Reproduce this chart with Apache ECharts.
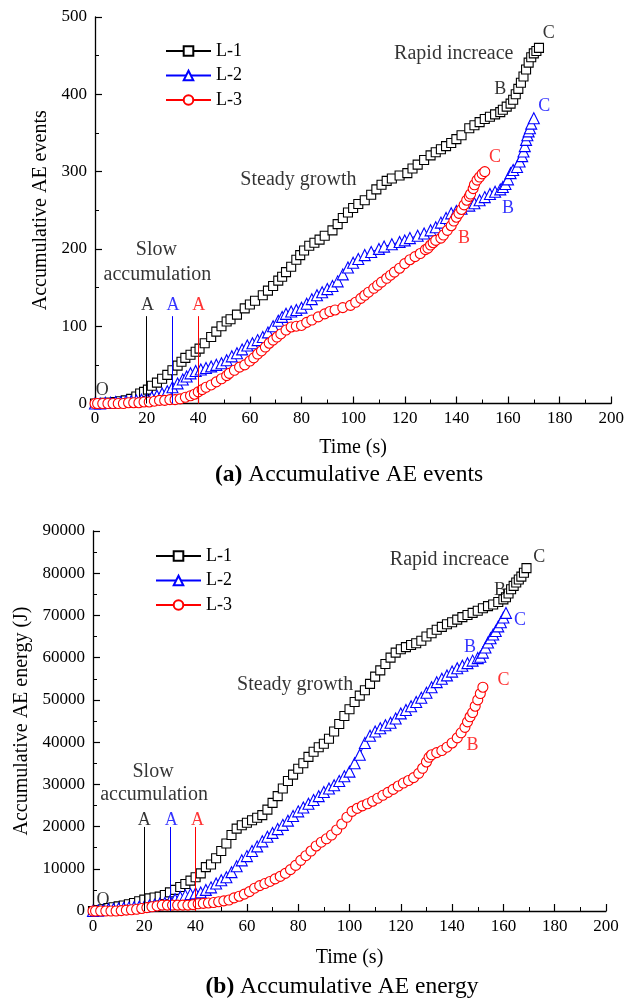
<!DOCTYPE html>
<html><head><meta charset="utf-8">
<script src="https://cdn.jsdelivr.net/npm/echarts@6/dist/echarts.min.js"></script>
<style>html,body{margin:0;padding:0;background:#fff}#c{width:627px;height:1004px}</style>
</head><body><div id="c"></div><script>
const seriesNames = ['L-1', 'L-2', 'L-3'];

// (a) Accumulative AE events: [time (s), count]
const eventsL1 = [[0,0],[2,0],[4,1],[6,1],[8,2],[10,3],[12,4],[14,6],[16,9],[17.5,13],[19,15],[20.5,18],[22,23],[24,27],[26,32],[28,37],[30,43],[32,49],[33.5,54],[35,59],[37,63],[39,67],[40.5,71],[42.5,78],[45,86],[47,93],[49,100],[51,106],[52.5,109],[55,115],[58,123],[60,128],[62,133],[65,140],[67,146],[69,152],[71,159],[72.5,164],[74,170],[76,177],[78,186],[79.5,192],[81,198],[83,204],[85,208],[87,212],[89,217],[92,224],[94,232],[96,240],[98,247],[100,253],[102,258],[104.5,263],[107,270],[109,277],[111,283],[113,288],[115,291],[118,295],[121,298],[123,304],[125,309],[127.5,315],[130,321],[132,325],[134,329],[136,333],[138,337],[140,342],[142,347],[145,356],[147,360],[149,364],[151,368],[153,371],[155,374],[157,377],[158,380],[159.5,384],[161,388],[162,393],[163,400],[164,407],[165,415],[166,423],[167,432],[168,441],[169,448],[170,453],[171,456],[172,460]];
const eventsL2 = [[0,0],[2,0],[4,1],[6,1],[8,2],[10,2],[12,3],[14,3],[16,4],[18,5],[20,6],[22,8],[24,10],[26,13],[28,16],[30,21],[32,26],[34,31],[35.5,35],[37,39],[39,42],[41,44],[43,46],[45,48],[47,50],[49,52],[51,56],[53,61],[55,65],[57,70],[59,75],[61,78],[63,82],[65,86],[67,92],[69,100],[71,107],[72.5,112],[74,116],[76,119],[78,121],[80,124],[82,129],[84,135],[86,140],[88,144],[90,148],[92,152],[94,158],[96,167],[98,176],[100,182],[102,187],[104.5,192],[107,196],[110,200],[112,203],[115,206],[118,209],[120,211],[122,214],[125,217],[127.5,220],[130,224],[132,228],[134,234],[136,240],[138,246],[140,249],[142,252],[145,256],[147,259],[149,263],[151,267],[153,271],[155,274],[157,277],[158,280],[159,284],[160,290],[161,298],[162,302],[163.5,306],[164.5,313],[165.5,320],[166,326],[166.5,333],[167,341],[167.5,347],[168,352],[168.5,356],[169,362],[170,369]];
const eventsL3 = [[0,0],[1,0],[3,0],[5,0],[7,0],[9,0],[11,0],[13,1],[15,1],[17,1],[19,2],[21,2],[23,3],[25,4],[27,4],[29,5],[31,5],[33,6],[35,8],[37,10],[38.5,12],[40,15],[41.5,18],[43,21],[45,24],[47,28],[49,32],[51,36],[52,39],[54,43],[56,47],[58,50],[60,55],[61.5,59],[63,64],[64.5,68],[66,73],[67.5,78],[69,82],[70.5,86],[72,90],[74,95],[76,99],[78,100],[80,101],[82,105],[84,108],[86.5,112],[89,116],[91,119],[93,121],[96,124],[99,127],[101,131],[103,136],[104.5,140],[106,144],[108,149],[109.5,153],[111,157],[113,162],[114.5,166],[116,170],[118,175],[120,181],[122,186],[124,190],[126,194],[128,199],[129,201],[130,205],[131,208],[132,211],[134,214],[135,218],[136.5,224],[138,230],[139,236],[140,241],[141,246],[142,251],[143,257],[144,263],[145,268],[145.5,271],[146.5,278],[147,283],[148,289],[149,293],[150,297],[151,300]];

// (b) Accumulative AE energy: [time (s), energy (J)]
const energyL1 = [[0,0],[2,200],[4,400],[6,700],[8,900],[10,1100],[12,1300],[14,1600],[16,1900],[18,2300],[20,2700],[22,3000],[24,3200],[26,3400],[28,3800],[30,4400],[32,5000],[34,5700],[36,6400],[38,7200],[40,8000],[42,8900],[44,10400],[46,11000],[48,12500],[50,14200],[52,16000],[54,18000],[56,19500],[58,20300],[60,20900],[62,21500],[64,22100],[66,22700],[68,24000],[70,25600],[72,27200],[74,29000],[76,30800],[78,32300],[80,33700],[82,35000],[84,36500],[86,37700],[88,38800],[90,39600],[92,40800],[94,42500],[96,44300],[98,46200],[100,47800],[102,49500],[104,51000],[106,52300],[108,53800],[110,55500],[112,57000],[114,58500],[116,60000],[118,61200],[120,62000],[122,62500],[124,63000],[126,63400],[128,64000],[130,65000],[132,65800],[134,66600],[136,67300],[138,67900],[140,68400],[142,69000],[144,69600],[146,70100],[148,70600],[150,71100],[152,71700],[154,72200],[156,72600],[158,73200],[160,73800],[161,74300],[162,75200],[163,76200],[164,77000],[165,77800],[166,78500],[167,79200],[168,80100],[169,81200]];
const energyL2 = [[0,0],[2,100],[4,300],[6,400],[8,500],[10,600],[12,700],[14,800],[16,900],[18,1000],[20,1100],[22,1300],[24,1500],[26,1700],[28,1900],[30,2300],[32,2800],[34,3300],[36,3700],[38,4000],[40,4200],[42,4400],[44,5000],[46,5600],[48,6500],[50,7300],[52,8000],[54,9200],[56,10600],[58,12000],[60,13000],[62,14200],[64,15300],[66,16500],[68,17600],[70,18500],[72,19400],[74,20400],[76,21400],[78,22500],[80,23600],[82,24500],[84,25400],[86,26300],[88,27200],[90,28200],[92,29000],[94,29800],[96,30800],[98,31900],[100,33000],[102,35000],[104,37000],[106,39800],[108,41500],[110,42500],[112,43300],[114,44000],[116,44600],[118,45600],[120,46800],[122,47600],[124,48500],[126,49500],[128,50500],[130,51700],[132,53000],[134,54200],[136,55000],[138,55800],[140,56700],[142,57500],[144,58100],[146,58700],[148,59300],[150,59900],[151,60200],[152,61200],[153,62400],[154,63600],[155,64600],[156,65500],[157,66300],[158,67400],[159,68400],[160,69500],[161,70600]];
const energyL3 = [[0,0],[1,0],[3,0],[5,0],[7,0],[9,0],[11,100],[13,200],[15,300],[17,400],[19,600],[21,800],[23,1000],[25,1200],[27,1400],[29,1400],[31,1400],[33,1400],[35,1400],[37,1400],[39,1500],[41,1700],[43,1800],[45,1900],[47,2000],[49,2200],[51,2400],[53,2600],[55,3100],[57,3500],[59,4000],[61,4600],[63,5400],[65,6000],[67,6500],[69,7000],[71,7600],[73,8200],[75,8900],[77,9800],[79,10800],[81,12000],[83,13100],[85,14200],[87,15400],[89,16300],[91,17100],[93,18000],[95,19200],[97,20600],[99,22200],[101,23600],[103,24300],[105,24900],[107,25400],[109,26000],[111,26700],[113,27400],[115,28100],[117,28800],[119,29600],[121,30300],[123,30900],[125,31600],[127,32600],[128.5,33800],[130,35300],[131,36400],[132,37000],[134,37500],[136,38000],[138,38800],[140,39800],[142,41000],[143.5,42200],[145,43500],[146,44800],[147,46000],[148,47000],[149,48500],[150,50000],[151,51500],[152,53000]];

// stage boundary times (A points) and their heights
const stageATimes = [20, 30, 40];
const stageALineTopEvents = 113;
const stageALineTopEnergy = 19900;

const FONT = 'Liberation Serif';
const colors = ['#000000', '#0000ff', '#ff0000'];
const symbols = ['rect', 'triangle', 'circle'];
const symSizes = [9, 11, 10];

// annotation text anchored in data coordinates: [text, x, y, colorIndex, size]
const annoTop = [
  ['O', 2.8, 17, 0, 18],
  ['A', 20.3, 127, 0, 18], ['A', 30.2, 127, 1, 18], ['A', 40.2, 127, 2, 18],
  ['Slow', 23.8, 199, 0, 20], ['accumulation', 24.2, 166, 0, 20],
  ['Steady growth', 78.8, 289, 0, 20],
  ['Rapid increace', 139, 453, 0, 20],
  ['C', 175.8, 479, 0, 18], ['B', 157, 406, 0, 18],
  ['C', 174, 384, 1, 18], ['B', 160, 253, 1, 18],
  ['C', 155, 318, 2, 18], ['B', 143, 214, 2, 18]
];
const annoBot = [
  ['O', 3.9, 2600, 0, 18],
  ['A', 20, 21500, 0, 18], ['A', 30.5, 21500, 1, 18], ['A', 40.7, 21500, 2, 18],
  ['Slow', 23.4, 32900, 0, 20], ['accumulation', 23.8, 27500, 0, 20],
  ['Steady growth', 78.8, 53500, 0, 20],
  ['Rapid increace', 139, 83100, 0, 20],
  ['C', 174, 83800, 0, 18], ['B', 158.7, 76000, 0, 18],
  ['C', 166.5, 68900, 1, 18], ['B', 147, 62500, 1, 18],
  ['C', 160, 54700, 2, 18], ['B', 148, 39300, 2, 18]
];

function xAxisCfg(gridIndex, nameGap) {
  return {
    type: 'value', gridIndex, min: 0, max: 200, interval: 20,
    name: 'Time (s)', nameLocation: 'middle', nameGap,
    nameTextStyle: { fontFamily: FONT, fontSize: 20, color: '#000' },
    axisLine: { show: true, onZero: false, lineStyle: { color: '#000', width: 1.3 } },
    axisTick: { show: true, inside: true, length: 7, lineStyle: { color: '#000', width: 1.2 } },
    minorTick: { show: true, splitNumber: 2, length: 4, lineStyle: { color: '#000', width: 1 } },
    splitLine: { show: false },
    axisLabel: { fontFamily: FONT, fontSize: 17, color: '#000', margin: 7, formatter: v => String(v) }
  };
}
function yAxisCfg(gridIndex, max, interval, name, nameGap) {
  return {
    type: 'value', gridIndex, min: 0, max, interval,
    name, nameLocation: 'middle', nameGap,
    nameTextStyle: { fontFamily: FONT, fontSize: 20, color: '#000' },
    axisLine: { show: true, onZero: false, lineStyle: { color: '#000', width: 1.3 } },
    axisTick: { show: true, inside: true, length: 7, lineStyle: { color: '#000', width: 1.2 } },
    minorTick: { show: true, splitNumber: 2, length: 4, lineStyle: { color: '#000', width: 1 } },
    splitLine: { show: false },
    axisLabel: { fontFamily: FONT, fontSize: 17, color: '#000', margin: 8, formatter: v => String(v) }
  };
}
function lineSeries(i, data, gi) {
  return {
    name: seriesNames[i], type: 'line', xAxisIndex: gi, yAxisIndex: gi, data,
    symbol: symbols[i], symbolSize: symSizes[i], showSymbol: true,
    lineStyle: { color: colors[i], width: 1 },
    itemStyle: { color: '#fff', borderColor: colors[i], borderWidth: 1.1 },
    emphasis: { disabled: true }, z: 2 + i
  };
}
function annoSeries(list, gi, lineTop) {
  return {
    type: 'scatter', xAxisIndex: gi, yAxisIndex: gi, symbolSize: 0, silent: true, z: 10,
    data: list.map(a => ({
      value: [a[1], a[2]],
      label: { show: true, position: 'inside', formatter: a[0], color: colors[a[3]],
        fontFamily: FONT, fontSize: a[4] }
    })),
    markLine: {
      silent: true, symbol: ['none', 'none'], label: { show: false }, animation: false,
      data: stageATimes.map((t, k) => [
        { coord: [t, 0], lineStyle: { color: colors[k], width: 1, type: 'solid' } },
        { coord: [t, lineTop] }
      ])
    }
  };
}
function legendCfg(left, top) {
  return {
    data: seriesNames, orient: 'vertical', left, top, padding: 0,
    itemWidth: 45, itemHeight: 12, itemGap: 6.5,
    textStyle: { fontFamily: FONT, fontSize: 18, color: '#000', padding: [0, 0, 0, 0] },
    selectedMode: false
  };
}

const chart = echarts.init(document.getElementById('c'), null, { renderer: 'canvas' });
chart.setOption({
  animation: false,
  backgroundColor: '#fff',
  title: [
    { text: '{b|(a)} Accumulative AE events', left: 349, top: 463, textAlign: 'center', padding: 0,
      textStyle: { fontFamily: FONT, fontSize: 23.5, fontWeight: 'normal', color: '#000',
        rich: { b: { fontFamily: FONT, fontSize: 23.5, fontWeight: 'bold', color: '#000' } } } },
    { text: '{b|(b)} Accumulative AE energy', left: 342, top: 975, textAlign: 'center', padding: 0,
      textStyle: { fontFamily: FONT, fontSize: 23.5, fontWeight: 'normal', color: '#000',
        rich: { b: { fontFamily: FONT, fontSize: 23.5, fontWeight: 'bold', color: '#000' } } } }
  ],
  legend: [legendCfg(165, 42), legendCfg(155, 547)],
  grid: [
    { left: 95, top: 17, width: 520, height: 386.5 },
    { left: 93, top: 531, width: 513, height: 380 }
  ],
  xAxis: [xAxisCfg(0, 34), xAxisCfg(1, 37)],
  yAxis: [
    yAxisCfg(0, 500, 100, 'Accumulative AE events', 43),
    yAxisCfg(1, 90000, 10000, 'Accumulative AE energy (J)', 58)
  ],
  series: [
    lineSeries(0, eventsL1, 0), lineSeries(1, eventsL2, 0), lineSeries(2, eventsL3, 0),
    lineSeries(0, energyL1, 1), lineSeries(1, energyL2, 1), lineSeries(2, energyL3, 1),
    annoSeries(annoTop, 0, stageALineTopEvents),
    annoSeries(annoBot, 1, stageALineTopEnergy)
  ]
});
</script></body></html>
